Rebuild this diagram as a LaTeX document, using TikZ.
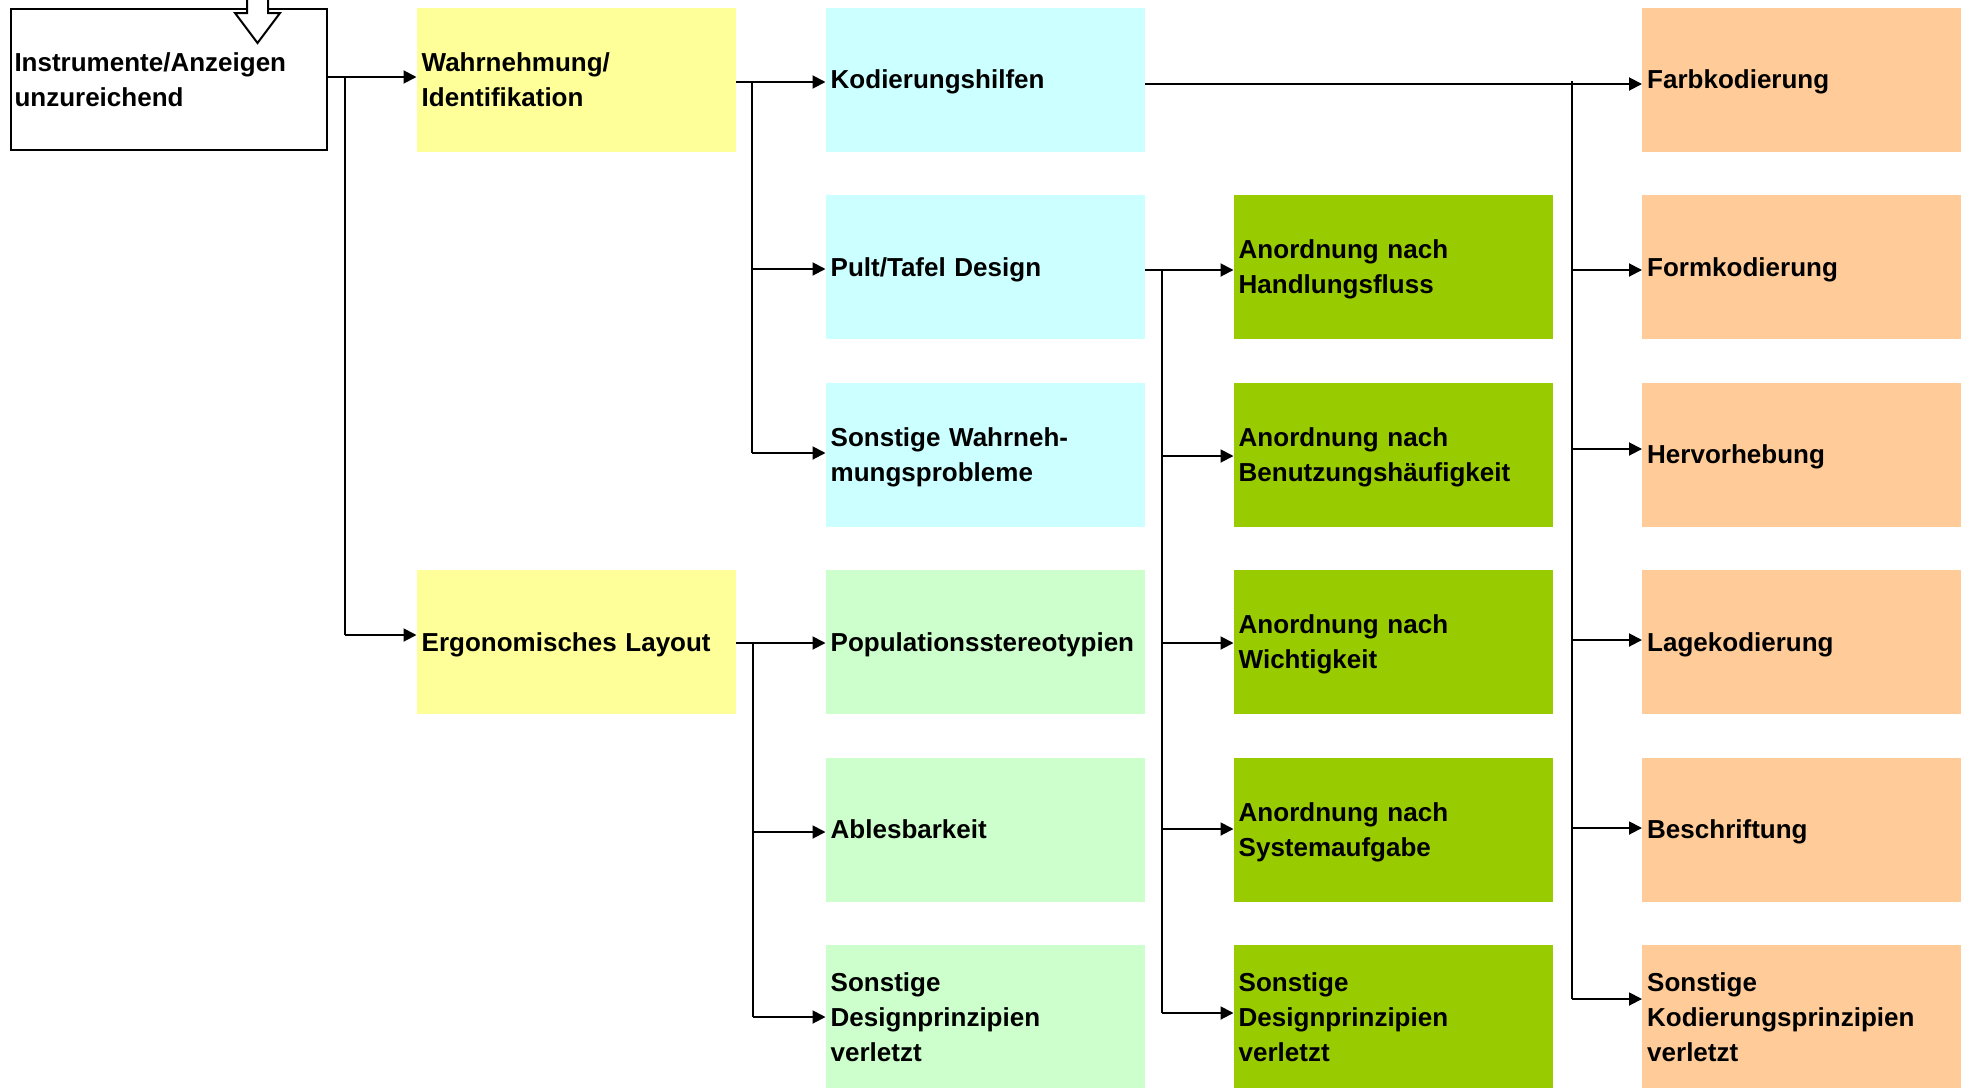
\documentclass[tikz,border=0pt]{standalone}
\usepackage{fontspec}
\setmainfont{Liberation Sans}
\usetikzlibrary{arrows.meta}

\definecolor{ylw}{HTML}{FFFF99}
\definecolor{cyn}{HTML}{CCFFFF}
\definecolor{lgrn}{HTML}{CCFFCC}
\definecolor{grn}{HTML}{99CC00}
\definecolor{org}{HTML}{FFCC99}

% invisible strut that fixes the height of the first and the depth of the last line
\newcommand{\linestrut}{\rule[-8pt]{0pt}{34pt}}

\tikzset{
  lbl/.style={font=\fontsize{26}{35}\selectfont\bfseries,
    execute at begin node={\linestrut}, execute at end node={\linestrut}},
  box/.style={lbl, rectangle, anchor=north west, draw=none,
    minimum width=319pt, minimum height=144pt, text width=309pt,
    inner xsep=5pt, inner ysep=0pt, align=left},
  rootbox/.style={lbl, rectangle, anchor=north west, draw=black, line width=2pt,
    fill=white, minimum width=316pt, minimum height=141pt, text width=309pt,
    inner xsep=3.5pt, inner ysep=0pt, align=left},
  conn/.style={draw=black, line width=1.9pt},
  arr/.style={conn, -{Triangle[length=13pt,width=13pt]}},
}

\begin{document}
\begin{tikzpicture}[x=1pt,y=-1pt]
  \useasboundingbox (0,0) rectangle (1961,1087);
  \clip (0,0) rectangle (1961,1087);

  % starting problem
  \node[rootbox] (root) at (10,8) {Instrumente/Anzeigen\\unzureichend};
  % incoming hollow arrow
  \draw[line width=2pt, fill=white] (247,-5) -- (247,13) -- (235,13) -- (257.5,43)
    -- (280,13) -- (268,13) -- (268,-5);

  % level 1
  \node[box, fill=ylw] (wahr) at (416.5,7.5) {Wahrnehmung/\\Identifikation};
  \node[box, fill=ylw] (ergo) at (416.5,570) {Ergonomisches Layout};

  % level 2
  \node[box, fill=cyn]  (kod)  at (825.5,7.5)   {Kodierungshilfen};
  \node[box, fill=cyn]  (pult) at (825.5,195)   {Pult/Tafel Design};
  \node[box, fill=cyn]  (sonw) at (825.5,382.5) {Sonstige Wahrneh-\\mungsprobleme};
  \node[box, fill=lgrn] (pop)  at (825.5,570)   {Populationsstereotypien};
  \node[box, fill=lgrn] (able) at (825.5,757.5) {Ablesbarkeit};
  \node[box, fill=lgrn] (sond) at (825.5,945)   {Sonstige\\Designprinzipien\\verletzt};

  % level 3: panel design
  \node[box, fill=grn] (hand) at (1233.5,195)   {Anordnung nach\\Handlungsfluss};
  \node[box, fill=grn] (benu) at (1233.5,382.5) {Anordnung nach\\Benutzungsh\"aufigkeit};
  \node[box, fill=grn] (wich) at (1233.5,570)   {Anordnung nach\\Wichtigkeit};
  \node[box, fill=grn] (syst) at (1233.5,757.5) {Anordnung nach\\Systemaufgabe};
  \node[box, fill=grn] (son3) at (1233.5,945)   {Sonstige\\Designprinzipien\\verletzt};

  % level 3: coding aids
  \node[box, fill=org] (farb) at (1642,7.5)   {Farbkodierung};
  \node[box, fill=org] (form) at (1642,195)   {Formkodierung};
  \node[box, fill=org] (herv) at (1642,382.5) {Hervorhebung};
  \node[box, fill=org] (lage) at (1642,570)   {Lagekodierung};
  \node[box, fill=org] (besc) at (1642,757.5) {Beschriftung};
  \node[box, fill=org] (sonk) at (1642,945)   {Sonstige\\Kodierungsprinzipien\\verletzt};

  % bus junctions
  \coordinate (a0) at (345,77);   \coordinate (a1) at (345,635);
  \coordinate (b0) at (752,82);   \coordinate (b1) at (752,269);  \coordinate (b2) at (752,453);
  \coordinate (c0) at (753,643);  \coordinate (c1) at (753,832);  \coordinate (c2) at (753,1017);
  \coordinate (d0) at (1162,270); \coordinate (d1) at (1162,456); \coordinate (d2) at (1162,643);
  \coordinate (d3) at (1162,829); \coordinate (d4) at (1162,1013);
  \coordinate (e0) at (1572,84);  \coordinate (e1) at (1572,270); \coordinate (e2) at (1572,449);
  \coordinate (e3) at (1572,640); \coordinate (e4) at (1572,828); \coordinate (e5) at (1572,999);

  % root -> level 1
  \draw[arr] (root.east |- a0) -- (wahr.west |- a0);
  \draw[conn] (a0) -- (a1);
  \draw[arr] (a1) -- (ergo.west |- a1);

  % perception -> level 2
  \draw[arr] (wahr.east |- b0) -- (kod.west |- b0);
  \draw[conn] (b0) -- (b2);
  \draw[arr] (b1) -- (pult.west |- b1);
  \draw[arr] (b2) -- (sonw.west |- b2);

  % layout -> level 2
  \draw[arr] (ergo.east |- c0) -- (pop.west |- c0);
  \draw[conn] (c0) -- (c2);
  \draw[arr] (c1) -- (able.west |- c1);
  \draw[arr] (c2) -- (sond.west |- c2);

  % panel design -> arrangements
  \draw[arr] (pult.east |- d0) -- (hand.west |- d0);
  \draw[conn] (d0) -- (d4);
  \draw[arr] (d1) -- (benu.west |- d1);
  \draw[arr] (d2) -- (wich.west |- d2);
  \draw[arr] (d3) -- (syst.west |- d3);
  \draw[arr] (d4) -- (son3.west |- d4);

  % coding aids -> codings
  \draw[arr] (kod.east |- e0) -- (farb.west |- e0);
  \draw[conn] ([yshift=3pt]e0) -- (e5);
  \draw[arr] (e1) -- (form.west |- e1);
  \draw[arr] (e2) -- (herv.west |- e2);
  \draw[arr] (e3) -- (lage.west |- e3);
  \draw[arr] (e4) -- (besc.west |- e4);
  \draw[arr] (e5) -- (sonk.west |- e5);
\end{tikzpicture}
\end{document}
